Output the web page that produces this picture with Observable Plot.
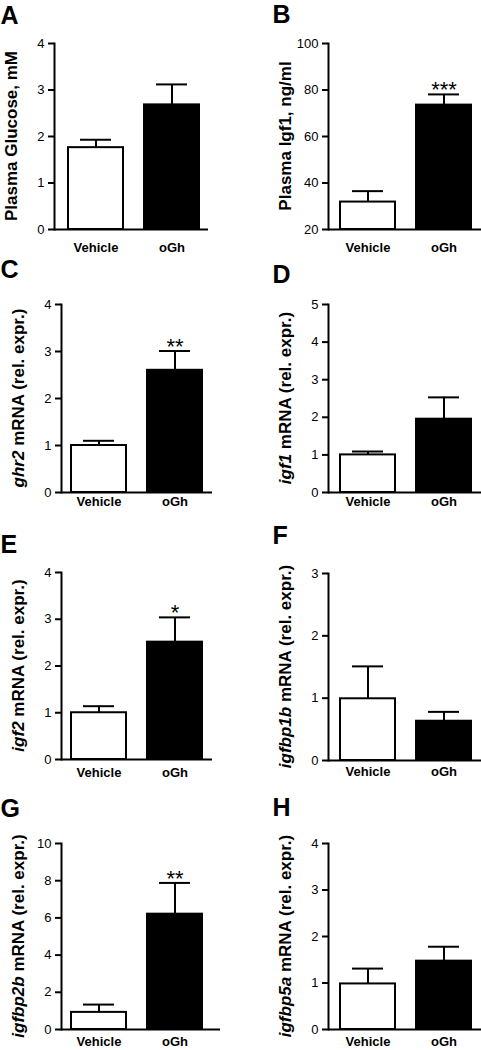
<!DOCTYPE html>
<html><head><meta charset="utf-8">
<script src="https://cdn.jsdelivr.net/npm/d3@7"></script>
<script src="https://cdn.jsdelivr.net/npm/@observablehq/plot@0.6"></script>
<style>
body{margin:0;background:#fff;}
#fig{position:relative;width:481px;height:1050px;background:#fff;overflow:hidden;}
</style></head><body><div id="fig"></div>
<script>
// ---- data ----
const groups = ["Vehicle", "oGh"];
const panelLetters = ["A", "B", "C", "D", "E", "F", "G", "H"];
const labelItalic = ["", "", "ghr2", "igf1", "igf2", "igfbp1b", "igfbp2b", "igfbp5a"];
const labelPlain = ["Plasma Glucose, mM", "Plasma Igf1, ng/ml", " mRNA (rel. expr.)", " mRNA (rel. expr.)",
  " mRNA (rel. expr.)", " mRNA (rel. expr.)", " mRNA (rel. expr.)", " mRNA (rel. expr.)"];
const yDomains = [[0, 4], [20, 100], [0, 4], [0, 5], [0, 4], [0, 3], [0, 10], [0, 4]];
const yTicks = [[0, 1, 2, 3, 4], [20, 40, 60, 80, 100], [0, 1, 2, 3, 4], [0, 1, 2, 3, 4, 5],
  [0, 1, 2, 3, 4], [0, 1, 2, 3], [0, 2, 4, 6, 8, 10], [0, 1, 2, 3, 4]];
const vehicleMean = [1.76, 31.8, 1.0, 1.0, 1.0, 0.99, 0.92, 0.98];
const vehicleSem = [0.17, 4.7, 0.10, 0.09, 0.14, 0.52, 0.42, 0.33];
const oghMean = [2.68, 73.5, 2.6, 1.95, 2.51, 0.63, 6.2, 1.47];
const oghSem = [0.44, 4.6, 0.41, 0.58, 0.53, 0.15, 1.68, 0.31];
const stars = ["", "***", "**", "", "*", "", "**", ""];

// ---- layout (pixels) ----
const layout = [
  {left: 0,   top: 0,   w: 240, h: 260, axisX: 54, axisEnd: 208, bar0: 67,  bar1: 199, fTop: 43, fBot: 229, letterY: 23, xPad: 13},
  {left: 240, top: 0,   w: 241, h: 260, axisX: 88, axisEnd: 241, bar0: 100, bar1: 231, fTop: 43, fBot: 229, letterY: 22, xPad: 13},
  {left: 0,   top: 260, w: 240, h: 260, axisX: 61, axisEnd: 212, bar0: 71,  bar1: 202, fTop: 44, fBot: 232, letterY: 17, xPad: 4},
  {left: 240, top: 260, w: 241, h: 260, axisX: 88, axisEnd: 241, bar0: 100, bar1: 231, fTop: 44, fBot: 232, letterY: 22, xPad: 4},
  {left: 0,   top: 520, w: 240, h: 260, axisX: 61, axisEnd: 212, bar0: 71,  bar1: 202, fTop: 52, fBot: 239, letterY: 32, xPad: 8},
  {left: 240, top: 520, w: 241, h: 260, axisX: 88, axisEnd: 241, bar0: 100, bar1: 231, fTop: 53, fBot: 240, letterY: 23, xPad: 6},
  {left: 0,   top: 780, w: 240, h: 270, axisX: 61, axisEnd: 220, bar0: 71,  bar1: 202, fTop: 63, fBot: 249, letterY: 36, xPad: 7},
  {left: 240, top: 780, w: 241, h: 270, axisX: 88, axisEnd: 241, bar0: 100, bar1: 231, fTop: 63, fBot: 249, letterY: 35, xPad: 7}
];

const FONT = "'Liberation Sans', Arial, Helvetica, sans-serif";
const fig = document.getElementById("fig");

panelLetters.forEach((letter, i) => {
  const L = layout[i];
  const ymin = yDomains[i][0];
  const data = groups.map((g, j) => {
    const mean = j ? oghMean[i] : vehicleMean[i];
    const sem = j ? oghSem[i] : vehicleSem[i];
    return {group: g, mean, top: mean + sem, star: j ? stars[i] : ""};
  });
  const plot = Plot.plot({
    width: L.w, height: L.h,
    marginLeft: L.axisX, marginRight: L.w - L.axisEnd,
    marginTop: L.fTop, marginBottom: L.h - L.fBot,
    style: {fontFamily: FONT, fontSize: "13px", color: "black", background: "transparent", overflow: "visible"},
    x: {type: "band", domain: groups, range: [L.bar0, L.bar1], paddingInner: 0.28, paddingOuter: 0},
    y: {domain: yDomains[i]},
    color: {domain: groups, range: ["white", "black"]},
    marks: [
      Plot.ruleX(data, {x: "group", y1: "mean", y2: "top", stroke: "black", strokeWidth: 2}),
      Plot.tickY(data, {x: "group", y: "top", stroke: "black", strokeWidth: 2, insetLeft: 12, insetRight: 12}),
      Plot.barY(data, {x: "group", y1: ymin, y2: "mean", fill: "group", stroke: "black", strokeWidth: 2}),
      Plot.text(data, {x: "group", y: "top", text: "star", lineAnchor: "bottom", dy: 3, fontSize: 22, fill: "black"}),
      Plot.ruleY([ymin], {stroke: "black", strokeWidth: 2}),
      Plot.frame({anchor: "left", stroke: "black", strokeWidth: 2}),
      Plot.axisY({ticks: yTicks[i], tickSize: 6, tickPadding: 4, strokeWidth: 2, fontSize: 13, label: null, tickFormat: d => String(d)}),
      Plot.axisX({tickSize: 0, tickPadding: L.xPad, fontSize: 13, fontWeight: "bold", label: null}),
      Plot.text([letter], {frameAnchor: "top-left", dx: (L.left ? 32 : 0) - L.axisX, dy: L.letterY - L.fTop,
        lineAnchor: "bottom", textAnchor: "start", fontSize: 25, fontWeight: "bold", fill: "black"})
    ]
  });
  plot.style.position = "absolute";
  plot.style.left = L.left + "px";
  plot.style.top = L.top + "px";
  const svg = d3.select(plot);
  const t = svg.append("text")
    .attr("transform", `translate(${L.axisX - 43},${(L.fTop + L.fBot) / 2}) rotate(-90)`)
    .attr("text-anchor", "middle")
    .attr("dy", "0.35em")
    .attr("font-family", FONT)
    .attr("font-weight", "bold")
    .attr("font-size", 17)
    .attr("fill", "black");
  if (labelItalic[i]) t.append("tspan").attr("font-style", "italic").text(labelItalic[i]);
  t.append("tspan").text(labelPlain[i]);
  fig.appendChild(plot);
});
</script>
</body></html>
